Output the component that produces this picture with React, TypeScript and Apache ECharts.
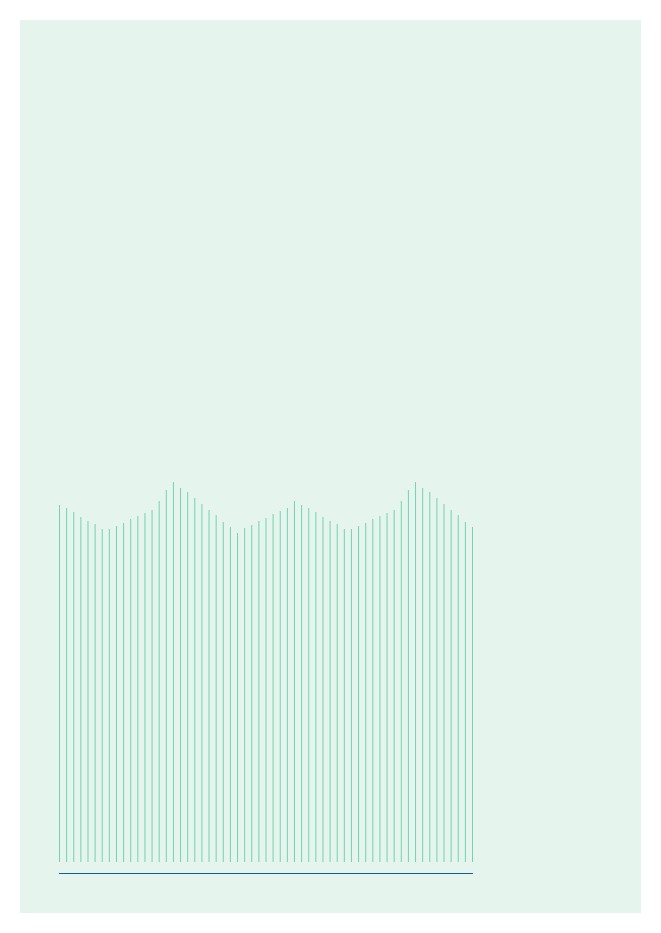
import React, { useEffect, useRef } from "react";
import * as echarts from "echarts";

const categories: number[] = Array.from({ length: 59 }, (_, i) => i);
const values: number[] = [
  357, 354, 350, 345, 341, 338, 333, 333, 336, 339,
  343, 346, 349, 352, 361, 372, 380, 374, 370, 364,
  358, 352, 347, 340, 335, 329, 334, 337, 341, 344,
  348, 351, 354, 361, 357, 354, 350, 345, 341, 338,
  333, 333, 336, 339, 343, 346, 349, 352, 361, 372,
  380, 374, 370, 364, 358, 352, 347, 340, 335,
];

export default function App() {
  const ref = useRef<HTMLDivElement>(null);
  useEffect(() => {
    if (!ref.current) return;
    const chart = echarts.init(ref.current, null, { renderer: "svg" });
    chart.setOption({
      animation: false,
      backgroundColor: "#e5f4ec",
      grid: { left: 39.5, right: 168.5, top: 442, bottom: 51 },
      xAxis: {
        type: "value",
        min: 0,
        max: categories.length - 1,
        offset: 11,
        axisLine: { show: true, onZero: false, lineStyle: { color: "#0f5f98", width: 1 } },
        axisTick: { show: false },
        axisLabel: { show: false },
        splitLine: { show: false },
      },
      yAxis: {
        type: "value",
        min: 0,
        max: 400,
        show: false,
      },
      series: [
        {
          type: "bar",
          barWidth: 1,
          itemStyle: { color: "#72d3b2" },
          data: categories.map((c, i) => [c, values[i]]),
        },
      ],
    });
    return () => chart.dispose();
  }, []);
  return (
    <div
      ref={ref}
      style={{ position: "absolute", left: 20, top: 20, width: 621, height: 893 }}
    />
  );
}
